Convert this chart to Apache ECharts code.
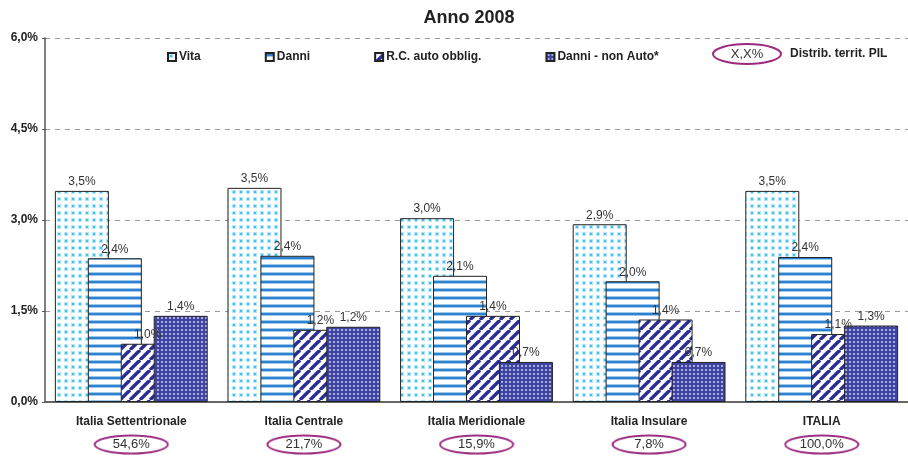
<!DOCTYPE html>
<html>
<head>
<meta charset="utf-8">
<script src="https://cdn.jsdelivr.net/npm/echarts@6/dist/echarts.min.js"></script>
<style>
  html, body { margin: 0; padding: 0; background: #fff; }
  #chart { width: 908px; height: 456px; }
</style>
</head>
<body>
<div id="chart"></div>
<script>
const categories = ['Italia Settentrionale', 'Italia Centrale', 'Italia Meridionale', 'Italia Insulare', 'ITALIA'];
const pilShare = ['54,6%', '21,7%', '15,9%', '7,8%', '100,0%'];
const seriesNames = ['Vita', 'Danni', 'R.C. auto obblig.', 'Danni - non Auto*'];
const vita = [3.48, 3.53, 3.03, 2.93, 3.48];
const danni = [2.37, 2.41, 2.08, 1.99, 2.39];
const rcAuto = [0.96, 1.19, 1.42, 1.36, 1.12];
const danniNonAuto = [1.42, 1.24, 0.66, 0.66, 1.26];

const font = '"Liberation Sans", Arial, sans-serif';
const ovalColor = '#9b2a7f';

// small canvas tiles for the hatch patterns
const makeTile = (w, h, draw) => {
  const c = document.createElement('canvas');
  c.width = w;
  c.height = h;
  draw(c.getContext('2d'));
  return c;
};

const dotsTile = makeTile(7, 7, ctx => {
  ctx.fillStyle = '#fff';
  ctx.fillRect(0, 0, 7, 7);
  ctx.fillStyle = '#b5e6fb';
  ctx.fillRect(1, 1, 4, 4);
  ctx.fillStyle = '#41c0f2';
  ctx.fillRect(2, 2, 2, 2);
});

const stripesTile = makeTile(8, 8, ctx => {
  ctx.fillStyle = '#fff';
  ctx.fillRect(0, 0, 8, 8);
  ctx.fillStyle = '#9cc9ee';
  ctx.fillRect(0, 0, 8, 1);
  ctx.fillRect(0, 3, 8, 1);
  ctx.fillStyle = '#2f80cf';
  ctx.fillRect(0, 1, 8, 2);
});

const diagTile = makeTile(10, 10, ctx => {
  ctx.fillStyle = '#fff';
  ctx.fillRect(0, 0, 10, 10);
  ctx.strokeStyle = '#2a2e94';
  ctx.lineWidth = 3.4;
  [-10, 0, 10].forEach(o => {
    ctx.beginPath();
    ctx.moveTo(o, 10);
    ctx.lineTo(o + 10, 0);
    ctx.stroke();
  });
});

const gridTile = makeTile(4, 4, ctx => {
  ctx.fillStyle = '#3f44a0';
  ctx.fillRect(0, 0, 4, 4);
  ctx.fillStyle = '#a7abe0';
  ctx.fillRect(1, 1, 2, 2);
});

const ovalImg = makeTile(80, 22, ctx => {
  ctx.strokeStyle = ovalColor;
  ctx.lineWidth = 2;
  ctx.beginPath();
  ctx.ellipse(40, 11, 38.5, 9.5, 0, 0, Math.PI * 2);
  ctx.stroke();
});

const patterns = [dotsTile, stripesTile, diagTile, gridTile];
const values = [vita, danni, rcAuto, danniNonAuto];

const pct = v => v.toFixed(1).replace('.', ',') + '%';

const chart = echarts.init(document.getElementById('chart'), null, { renderer: 'canvas' });

const option = {
  backgroundColor: '#fff',
  animation: false,
  textStyle: { fontFamily: font },
  title: {
    text: 'Anno 2008',
    left: 464,
    textAlign: 'center',
    top: 4,
    textStyle: { fontFamily: font, fontSize: 18, fontWeight: 'bold', color: '#222' }
  },
  legend: {
    left: 162,
    top: 46,
    itemGap: 64,
    itemWidth: 8,
    itemHeight: 8,
    icon: 'rect',
    textStyle: { fontFamily: font, fontSize: 12, fontWeight: 'bold', color: '#222', padding: [0, 0, 0, -2] },
    data: seriesNames
  },
  grid: {
    left: 45,
    right: 0,
    top: 38,
    bottom: 54
  },
  xAxis: {
    type: 'category',
    data: categories,
    axisTick: { show: false },
    axisLine: { lineStyle: { color: '#666', width: 2 } },
    axisLabel: {
      margin: 8,
      interval: 0,
      formatter: (v, i) => `{n|${v}}\n{p|${pilShare[i]}}`,
      rich: {
        n: { fontFamily: font, fontSize: 12, fontWeight: 'bold', color: '#222', lineHeight: 24 },
        p: {
          fontFamily: font, fontSize: 13, color: '#333',
          width: 44, height: 15, padding: [3, 16], align: 'center',
          backgroundColor: { image: ovalImg }
        }
      }
    }
  },
  yAxis: {
    type: 'value',
    min: 0,
    max: 6,
    interval: 1.5,
    axisLine: { show: true, lineStyle: { color: '#555', width: 1.5 } },
    axisTick: { show: true, length: 3, lineStyle: { color: '#555' } },
    axisLabel: {
      margin: 7,
      formatter: v => v.toFixed(1).replace('.', ',') + '%',
      fontFamily: font, fontSize: 12, fontWeight: 'bold', color: '#222'
    },
    splitLine: { lineStyle: { type: [5, 5], color: '#999' } }
  },
  graphic: [
    {
      type: 'ellipse',
      shape: { cx: 747, cy: 54, rx: 34, ry: 10 },
      style: { fill: 'none', stroke: ovalColor, lineWidth: 2 }
    },
    {
      type: 'text',
      x: 747,
      y: 54,
      style: { text: 'X,X%', font: '13px ' + font, fill: '#333', align: 'center', verticalAlign: 'middle' }
    },
    {
      type: 'text',
      x: 790,
      y: 54,
      style: { text: 'Distrib. territ. PIL', font: 'bold 12px ' + font, fill: '#222', verticalAlign: 'middle' }
    }
  ],
  series: seriesNames.map((name, i) => ({
    name: name,
    type: 'bar',
    barWidth: 54,
    barGap: '-39%',
    data: values[i],
    itemStyle: {
      color: { image: patterns[i], repeat: 'repeat' },
      borderColor: '#222',
      borderWidth: 1
    },
    label: {
      show: true,
      position: 'top',
      distance: 3,
      formatter: p => pct(p.value),
      fontFamily: font,
      fontSize: 12,
      color: '#333'
    }
  }))
};

chart.setOption(option);
</script>
</body>
</html>
